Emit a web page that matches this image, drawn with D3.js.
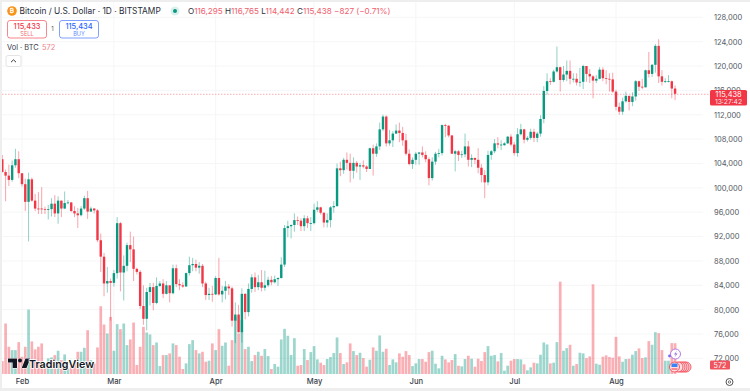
<!DOCTYPE html>
<html>
<head>
<meta charset="utf-8">
<script src="https://cdn.jsdelivr.net/npm/d3@7"></script>
<style>
  html, body { margin: 0; padding: 0; background: #fff; overflow: hidden; }
  text { font-family: Inter, "Liberation Sans", sans-serif; }
</style>
</head>
<body>
<script>
// values, prices in thousands of USD, one row per month
const opens = [
  104.7,102.6,102.0,101.3,103.7,104.7,
  102.4,100.6,97.7,101.4,97.9,96.6,96.6,96.5,96.4,96.5,97.4,95.8,97.9,96.6,97.5,97.6,96.2,95.8,95.5,96.6,98.3,96.1,96.6,96.3,91.4,88.7,84.3,84.7,
  84.4,86.0,94.2,86.1,87.2,90.6,89.9,86.7,86.2,80.6,78.5,82.9,83.7,81.1,83.9,84.3,82.6,84.0,82.7,86.8,84.2,84.0,83.8,86.0,87.3,87.5,86.9,87.2,84.3,82.4,82.6,
  82.5,85.2,82.5,83.1,83.8,83.5,78.2,79.2,76.3,82.6,79.6,83.4,85.3,83.7,84.5,83.6,84.0,84.9,84.5,85.0,85.2,87.4,93.4,93.7,93.9,94.7,94.6,93.7,95.0,94.2,
  94.2,96.4,96.8,95.9,94.3,94.7,96.8,97.0,103.2,102.9,104.6,104.1,102.8,104.1,103.5,103.7,103.5,103.1,106.5,105.6,106.8,109.6,111.7,107.3,107.8,108.9,109.4,109.0,107.8,105.6,103.9,
  104.6,105.6,105.8,105.4,104.7,101.6,104.3,105.6,105.7,110.3,110.2,108.6,105.6,106.0,105.4,105.5,106.8,104.6,104.9,104.6,103.3,102.1,100.9,105.4,106.0,107.3,107.1,107.0,107.3,108.4,
  107.1,105.7,108.8,109.6,107.9,108.2,109.2,108.2,108.9,111.3,115.9,117.5,117.4,119.1,119.8,117.7,118.6,119.2,117.9,117.9,117.3,117.4,120.0,118.7,118.3,117.6,117.9,119.4,118.0,117.9,117.8,
  115.8,113.3,112.5,114.2,115.1,114.1,115.0,117.5,116.6,116.5,119.3,118.7,120.2,123.3,118.3,117.4,117.5,117.5,116.3
];
const highs = [
  105.4,103.0,103.8,104.5,106.4,106.0,
  102.0,101.5,102.5,101.7,99.0,99.3,100.1,96.9,97.2,98.3,98.8,98.6,97.9,99.4,98.0,97.7,97.0,96.7,97.0,98.7,99.5,96.9,96.7,96.5,92.5,89.3,87.0,85.1,
  86.5,95.2,94.4,88.9,91.0,92.8,92.0,86.9,86.5,84.0,83.6,84.4,84.4,85.3,84.7,85.0,84.7,84.0,87.4,87.4,85.0,84.5,86.1,88.7,88.5,88.2,87.8,87.5,84.6,83.6,83.9,
  85.5,88.5,83.9,84.7,84.2,83.8,81.2,80.8,83.5,82.7,84.3,85.8,86.1,85.7,86.5,86.4,85.4,85.5,85.6,85.3,88.6,93.9,94.6,94.0,95.8,95.3,95.0,95.5,95.4,95.2,
  97.4,97.8,96.9,96.0,95.8,97.0,97.8,104.0,104.3,104.9,105.8,105.6,105.0,104.4,104.1,104.5,103.7,106.6,107.1,107.3,110.7,112.0,111.9,109.5,109.3,110.4,110.7,110.0,108.9,106.3,105.0,
  105.9,105.9,106.8,106.0,105.0,105.0,105.9,106.4,110.4,110.5,110.3,108.7,106.2,106.2,106.1,108.9,107.7,105.5,105.0,106.5,103.9,102.9,106.1,106.2,108.0,108.3,107.8,107.5,108.5,108.8,
  107.5,109.8,110.5,109.7,108.5,109.7,109.7,109.2,111.9,116.7,118.8,118.0,119.4,123.2,119.9,120.0,120.9,120.9,118.8,118.8,119.7,120.2,120.0,119.5,118.5,118.5,119.8,119.8,119.3,118.8,118.9,
  116.1,114.0,114.8,115.8,115.1,115.7,117.7,117.6,117.9,119.4,122.3,120.3,123.6,124.4,119.3,118.0,118.5,117.6,116.8
];
const lows = [
  102.5,97.8,100.3,101.0,103.3,101.6,
  100.2,96.2,91.2,97.7,96.2,95.7,95.7,95.7,94.8,95.3,95.2,94.1,95.2,96.5,97.3,96.0,95.2,93.4,95.3,96.4,94.9,96.1,95.8,91.1,86.2,82.2,82.8,78.2,
  83.8,85.1,83.0,81.5,86.3,87.8,84.7,85.8,80.1,77.5,76.6,80.7,79.9,80.9,83.7,81.9,82.5,81.2,82.5,83.7,83.2,83.6,83.8,85.6,86.3,86.3,85.9,83.7,81.6,81.6,81.3,
  82.4,82.3,81.2,81.7,82.4,77.2,74.5,76.2,74.6,78.4,78.9,82.8,82.9,83.2,83.0,83.1,83.7,84.0,84.3,83.9,85.1,87.0,91.9,91.7,92.8,93.9,92.9,92.9,93.4,92.9,
  94.0,96.0,95.6,93.5,93.5,93.5,95.9,96.9,101.9,102.3,103.0,100.9,101.5,102.5,101.3,103.2,102.6,103.1,102.0,105.1,106.2,109.3,106.8,106.9,106.7,108.9,107.5,106.9,105.3,103.7,103.1,
  103.8,103.8,105.0,104.2,100.4,101.2,103.8,105.0,105.3,108.3,108.3,105.6,102.7,104.4,104.9,105.0,103.5,103.4,103.9,102.4,100.9,98.3,100.4,104.6,105.7,106.5,106.2,106.9,107.2,106.8,
  105.3,105.1,108.6,107.3,107.6,107.9,107.5,107.5,108.4,110.6,115.3,116.9,117.3,118.9,115.8,117.4,117.5,117.0,117.3,116.8,116.6,116.2,117.4,117.2,114.7,117.2,117.8,117.5,117.0,115.8,115.6,
  112.7,112.0,112.0,114.0,112.7,113.4,114.3,115.9,116.2,116.5,118.1,118.2,118.9,117.2,116.8,117.2,117.3,114.7,114.4
];
const closes = [
  102.6,102.0,101.3,103.7,104.7,102.4,
  100.6,97.7,101.4,97.9,96.6,96.55,96.5,96.45,96.5,97.4,95.8,97.9,96.6,97.5,97.6,96.2,95.8,95.5,96.6,98.3,96.1,96.6,96.3,91.4,88.7,84.3,84.7,84.4,
  86.0,94.2,86.1,87.2,90.6,89.9,86.7,86.2,80.6,78.5,82.9,83.7,81.1,83.9,84.3,82.6,84.0,82.7,86.8,84.2,84.0,83.8,86.0,87.3,87.5,86.9,87.2,84.3,82.4,82.6,82.5,
  85.2,82.5,83.1,83.8,83.5,78.2,79.2,76.3,82.6,79.6,83.4,85.3,83.7,84.5,83.6,84.0,84.9,84.5,85.0,85.2,87.4,93.4,93.7,93.9,94.7,94.6,93.7,95.0,94.2,94.2,
  96.4,96.8,95.9,94.3,94.7,96.8,97.0,103.2,102.9,104.6,104.1,102.8,104.1,103.5,103.7,103.5,103.1,106.5,105.6,106.8,109.6,111.7,107.3,107.8,108.9,109.4,109.0,107.8,105.6,103.9,104.6,
  105.6,105.8,105.4,104.7,101.6,104.3,105.6,105.7,110.3,110.2,108.6,105.6,106.0,105.4,105.5,106.8,104.6,104.9,104.6,103.3,102.1,100.9,105.4,106.0,107.3,107.1,107.1,107.3,108.4,107.1,
  105.7,108.8,109.6,107.9,108.2,109.2,108.2,108.9,111.3,115.9,117.5,117.4,119.1,119.8,117.7,118.6,119.2,117.9,117.9,117.3,117.4,120.0,118.7,118.3,117.6,117.9,119.4,118.0,117.9,117.8,115.8,
  113.3,112.5,114.2,115.1,114.1,115.0,117.5,116.6,116.5,119.3,118.7,120.2,123.3,118.3,117.4,117.5,117.5,116.3,115.438
];
const volumes = [
  240,938,506,444,444,592,
  320,506,1197,605,457,506,568,175,290,308,352,432,259,364,105,167,228,413,413,487,814,259,197,494,1259,919,753,1061,
  432,926,833,938,537,642,956,167,506,876,771,734,537,586,148,352,352,383,568,537,321,93,197,555,629,444,383,413,228,247,568,
  444,833,524,586,154,629,1061,753,1000,463,506,240,352,413,339,463,333,93,185,136,642,839,710,352,666,154,167,463,259,407,
  518,271,210,167,278,315,389,679,389,185,216,568,426,352,395,296,136,265,494,432,716,413,469,167,271,216,383,321,426,352,148,
  197,278,278,228,407,432,191,105,339,271,216,259,370,154,142,278,339,284,136,284,241,407,518,339,352,234,389,62,154,247,
  278,278,271,179,68,123,210,197,358,586,549,197,210,592,1715,432,481,543,154,185,395,383,296,327,1666,191,173,321,346,315,302,
  691,327,228,278,284,358,426,475,296,309,611,543,777,759,444,247,247,574,572
];
const priceTicks = [128,124,120,116,112,108,104,100,96,92,88,84,80,76,72];
const firstDay = new Date(Date.UTC(2025, 0, 26));
const dayCount = closes.length;
const lastPrice = 115.438;

const green = "#089981", red = "#f23645";
const width = 750, height = 391;
const days = d3.utcDay.range(firstDay, d3.utcDay.offset(firstDay, dayCount));
const candles = days.map((date, i) => ({
  date, open: opens[i], high: highs[i], low: lows[i], close: closes[i], volume: volumes[i]
}));

const svg = d3.select("body").append("svg")
  .attr("width", width).attr("height", height)
  .style("display", "block");

// Scales
const x = d3.scaleUtc()
  .domain([new Date(Date.UTC(2025, 1, 1)), new Date(Date.UTC(2025, 7, 1))])
  .range([22, 616]);
const y = d3.scaleLinear().domain([120, 72]).range([66, 358.4]);
const yVol = d3.scaleLinear().domain([0, 1715]).range([374, 281.7]);
const monthTicks = d3.utcMonth.range(new Date(Date.UTC(2025, 1, 1)), new Date(Date.UTC(2025, 7, 2)));

// Grid
const grid = svg.append("g").attr("stroke", "#f5f6f7").attr("stroke-width", 1);
grid.selectAll("line.h").data(priceTicks).join("line").attr("class", "h")
  .attr("x1", 2).attr("x2", 703)
  .attr("y1", d => y(d)).attr("y2", d => y(d));
grid.selectAll("line.v").data(monthTicks).join("line").attr("class", "v")
  .attr("x1", d => x(d)).attr("x2", d => x(d))
  .attr("y1", 2).attr("y2", 374);

// Volume bars
svg.append("g").selectAll("rect").data(candles).join("rect")
  .attr("x", d => x(d.date) - 1.35)
  .attr("width", 2.7)
  .attr("y", d => yVol(d.volume))
  .attr("height", d => yVol(0) - yVol(d.volume))
  .attr("fill", d => d.close >= d.open ? green : red)
  .attr("fill-opacity", 0.4);

// Last price line, under the candles
svg.append("line")
  .attr("x1", 2).attr("x2", 710)
  .attr("y1", y(lastPrice) + 0.5).attr("y2", y(lastPrice) + 0.5)
  .attr("stroke", red).attr("stroke-opacity", 0.4)
  .attr("stroke-width", 1).attr("stroke-dasharray", "1.5 1.5");

// Candles
const candle = svg.append("g").selectAll("g").data(candles).join("g")
  .attr("fill", d => d.close >= d.open ? green : red)
  .attr("stroke", d => d.close >= d.open ? green : red);
candle.append("line")
  .attr("x1", d => x(d.date)).attr("x2", d => x(d.date))
  .attr("y1", d => y(d.high)).attr("y2", d => y(d.low))
  .attr("stroke-width", 1).attr("stroke-opacity", 0.45);
candle.append("rect")
  .attr("x", d => x(d.date) - 1.2)
  .attr("width", 2.4)
  .attr("y", d => y(Math.max(d.open, d.close)))
  .attr("height", d => Math.max(0.8, Math.abs(y(d.open) - y(d.close))))
  .attr("stroke", "none");

// Price axis
const yAxis = svg.append("g")
  .attr("transform", "translate(714,0)")
  .call(d3.axisRight(y).tickValues(priceTicks).tickSize(0).tickPadding(0)
    .tickFormat(d => d3.format(",")(d * 1000)));
yAxis.select(".domain").remove();
yAxis.selectAll("text").attr("fill", "#555a64").style("font-size", "7.5px")
  .style("font-family", "Inter, sans-serif");

// Time axis
const xAxis = svg.append("g")
  .attr("transform", "translate(0,376)")
  .call(d3.axisBottom(x).tickValues(monthTicks).tickSize(0).tickPadding(3)
    .tickFormat(d3.utcFormat("%b")));
xAxis.select(".domain").remove();
xAxis.selectAll("text").attr("fill", "#3a3e49").style("font-size", "7.6px")
  .style("font-weight", 500).style("font-family", "Inter, sans-serif");

// Window edges
svg.append("rect").attr("width", width).attr("height", 2).attr("fill", "#eeeeee");
svg.append("rect").attr("width", 2).attr("height", height).attr("fill", "#eeeeee");
svg.append("rect").attr("y", 388).attr("width", width).attr("height", 3).attr("fill", "#eeeeee");

// Header
svg.append("circle").attr("cx", 12).attr("cy", 11).attr("r", 4.8).attr("fill", "#f7931a");
svg.append("text").attr("x", 12).attr("y", 13.3).attr("text-anchor", "middle")
  .attr("fill", "#fff").style("font-size", "6.5px").style("font-weight", 700).text("₿");
svg.append("text").attr("x", 19.5).attr("y", 14).attr("fill", "#2a2e39")
  .style("font-size", "8.35px").text("Bitcoin / U.S. Dollar · 1D · BITSTAMP");
svg.append("circle").attr("cx", 175).attr("cy", 11).attr("r", 4.5).attr("fill", green).attr("fill-opacity", 0.15);
svg.append("circle").attr("cx", 175).attr("cy", 11).attr("r", 2).attr("fill", green);

const ohlc = svg.append("text").attr("x", 188).attr("y", 14).style("font-size", "8.1px").attr("fill", "#f0606e");
[["O", "116,295"], ["H", "116,765"], ["L", "114,442"], ["C", "115,438"]].forEach(([k, v]) => {
  ohlc.append("tspan").attr("fill", "#2a2e39").text(k);
  ohlc.append("tspan").text(v + " ");
});
ohlc.append("tspan").text("−827 (−0.71%)");

// Sell / buy boxes
function tradeBox(bx, color, price, label) {
  svg.append("rect").attr("x", bx + 0.5).attr("y", 20.5).attr("width", 39).attr("height", 17.5).attr("rx", 2.5)
    .attr("fill", "#fff").attr("stroke", color).attr("stroke-opacity", 0.6);
  svg.append("text").attr("x", bx + 20).attr("y", 28.5).attr("text-anchor", "middle").attr("fill", color)
    .style("font-size", "7.4px").style("font-weight", 500).text(price);
  svg.append("text").attr("x", bx + 20).attr("y", 35.5).attr("text-anchor", "middle").attr("fill", color)
    .attr("fill-opacity", 0.8).style("font-size", "5.6px").text(label);
}
tradeBox(7, "#f23645", "115,433", "SELL");
tradeBox(59, "#2962ff", "115,434", "BUY");
svg.append("text").attr("x", 52.5).attr("y", 31).attr("text-anchor", "middle").attr("fill", "#555")
  .style("font-size", "6px").text("1");

svg.append("text").attr("x", 7).attr("y", 50).attr("fill", "#3a3e49").style("font-size", "7.4px").text("Vol · BTC");
svg.append("text").attr("x", 42).attr("y", 50).attr("fill", "#f0808a").style("font-size", "7.4px").text("572");

svg.append("rect").attr("x", 6).attr("y", 55.5).attr("width", 15).attr("height", 11).attr("rx", 2)
  .attr("fill", "#fff").attr("stroke", "#e4e4e4");
svg.append("path").attr("d", "M11 62.2L13.5 59.8L16 62.2").attr("fill", "none").attr("stroke", "#222").attr("stroke-width", 0.9);

// Axis badges
svg.append("rect").attr("x", 710).attr("y", 90).attr("width", 37).attr("height", 15.5).attr("rx", 1.5).attr("fill", "#f23645");
svg.append("text").attr("x", 728.5).attr("y", 96.8).attr("text-anchor", "middle").attr("fill", "#fff")
  .style("font-size", "7.4px").text("115,438");
svg.append("text").attr("x", 728.5).attr("y", 104).attr("text-anchor", "middle").attr("fill", "#fff")
  .attr("fill-opacity", 0.9).style("font-size", "6.8px").text("13:27:42");
svg.append("rect").attr("x", 710).attr("y", 360.5).attr("width", 20).attr("height", 9).attr("rx", 1).attr("fill", "#f0555f");
svg.append("text").attr("x", 720).attr("y", 367.6).attr("text-anchor", "middle").attr("fill", "#fff")
  .style("font-size", "7.2px").text("572");

// TradingView logo
const logo = svg.append("g").attr("transform", "translate(8,356.5)");
logo.append("path")
  .attr("d", "M9 11.5H4.6V6H0V2h9zM18.5 11.5h-4.8L17.5 2h4.8z")
  .attr("fill", "#131722").attr("stroke", "#fff").attr("stroke-width", 1).attr("paint-order", "stroke");
logo.append("circle").attr("cx", 12).attr("cy", 4).attr("r", 2).attr("fill", "#131722");
logo.append("text").attr("x", 21).attr("y", 11).attr("fill", "#131722")
  .attr("stroke", "#fff").attr("stroke-width", 1.5).attr("paint-order", "stroke")
  .style("font-size", "10.7px").style("font-weight", 600).text("TradingView");

// Event marks near the last bar
svg.append("circle").attr("cx", 675.5).attr("cy", 354).attr("r", 5).attr("fill", "#fff").attr("stroke", "#b26be0").attr("stroke-width", 0.9);
svg.append("path").attr("d", "M677 350.5L674 354.5H676L674.5 357.5L677.5 353.5H675.5z").attr("fill", "#8a63e8");
svg.append("circle").attr("cx", 669.5).attr("cy", 356).attr("r", 1.4).attr("fill", "#7a6cf0");
[686, 684, 682, 680, 678, 674.5].forEach(cx => {
  svg.append("circle").attr("cx", cx).attr("cy", 367).attr("r", 5)
    .attr("fill", "#fde0e2").attr("stroke", "#f23645").attr("stroke-width", 0.8);
});
svg.append("rect").attr("x", 671.5).attr("y", 363.5).attr("width", 6).attr("height", 3.5).attr("fill", "#3b82f6");
svg.append("rect").attr("x", 671.5).attr("y", 368.5).attr("width", 6).attr("height", 1).attr("fill", "#f23645");

// Settings icon
svg.append("circle").attr("cx", 729.5).attr("cy", 382).attr("r", 3.5).attr("fill", "none").attr("stroke", "#555").attr("stroke-width", 1);
svg.append("circle").attr("cx", 729.5).attr("cy", 382).attr("r", 1.2).attr("fill", "none").attr("stroke", "#555").attr("stroke-width", 0.8);
</script>
</body>
</html>
